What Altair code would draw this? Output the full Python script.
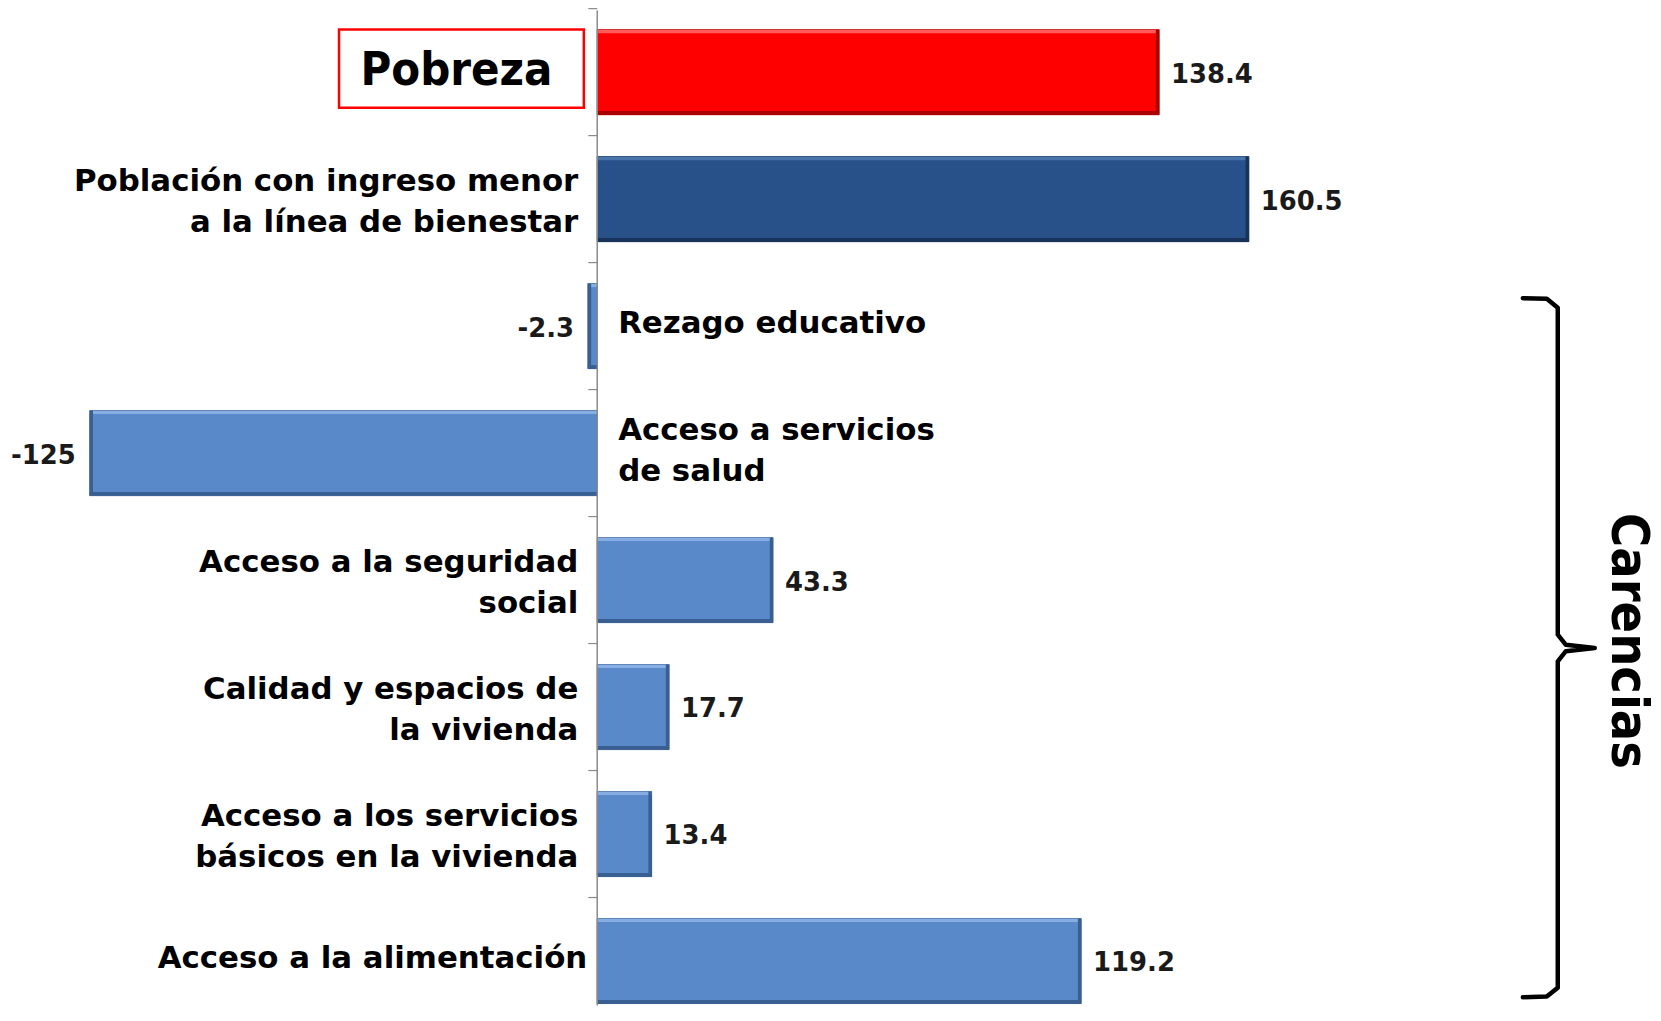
import altair as alt
import pandas as pd

categories = [
    "Pobreza",
    "Población con ingreso menor\na la línea de bienestar",
    "Rezago educativo",
    "Acceso a servicios\nde salud",
    "Acceso a  la seguridad\nsocial",
    "Calidad y espacios de\nla vivienda",
    "Acceso a los servicios\nbásicos en la vivienda",
    "Acceso a la alimentación",
]
values = [138.4, 160.5, -2.3, -125, 43.3, 17.7, 13.4, 119.2]
value_labels = ["138.4", "160.5", "-2.3", "-125", "43.3", "17.7", "13.4", "119.2"]
groups = ["Pobreza", "Bienestar", "Carencia", "Carencia", "Carencia", "Carencia", "Carencia", "Carencia"]

group_names = ["Pobreza", "Bienestar", "Carencia"]
fill_colors = ["#FF0000", "#285189", "#5A89CA"]
light_colors = ["#FF5C5C", "#4A74AC", "#86AEE2"]
dark_colors = ["#A80000", "#18325A", "#395E92"]

# annotation: bracket grouping the "carencias" rows (x in value units, y in row units)
bracket_x = [228.0, 233.9, 236.6, 236.6, 238.6, 245.7, 238.6, 236.6, 236.6, 233.9, 228.0]
bracket_y = [1.78, 1.785, 1.855, 4.43, 4.51, 4.535, 4.56, 4.64, 7.21, 7.28, 7.285]
bracket_label = "Carencias"

df = pd.DataFrame({
    "cat": categories,
    "row": list(range(len(categories))),
    "value": values,
    "label": value_labels,
    "group": groups,
})
bdf = pd.DataFrame({"bx": bracket_x, "by": bracket_y, "order": list(range(len(bracket_x)))})

xs = alt.Scale(domain=[-145.14, 260.06], nice=False, zero=False)
ys = alt.Scale(domain=[-0.486, 7.351], nice=False, zero=False, reverse=True)

LABEL_FONT = "DejaVu Sans"
COND_FONT = "DejaVu Sans Condensed, DejaVu Sans"

base = alt.Chart(df).transform_calculate(zero="0")
barbase = base.transform_calculate(
    y0="datum.row - 0.335", y1="datum.row + 0.335",
)


def gcolor(rng):
    return alt.Color("group:N", scale=alt.Scale(domain=group_names, range=rng), legend=None)


bars = barbase.mark_bar(strokeWidth=1).encode(
    x=alt.X("value:Q", scale=xs, axis=None),
    x2="zero:Q",
    y=alt.Y("y0:Q", scale=ys, axis=None),
    y2="y1:Q",
    color=gcolor(fill_colors),
    stroke=alt.Stroke("group:N", scale=alt.Scale(domain=group_names, range=dark_colors), legend=None),
)

# bevel highlights / shadows
top_hi = barbase.transform_calculate(h1="datum.y0 + 0.028").mark_bar().encode(
    x=alt.X("value:Q", scale=xs, axis=None),
    x2="zero:Q",
    y=alt.Y("y0:Q", scale=ys, axis=None),
    y2="h1:Q",
    color=gcolor(light_colors),
)
bottom_lo = barbase.transform_calculate(l0="datum.y1 - 0.028").mark_bar().encode(
    x=alt.X("value:Q", scale=xs, axis=None),
    x2="zero:Q",
    y=alt.Y("l0:Q", scale=ys, axis=None),
    y2="y1:Q",
    color=gcolor(dark_colors),
)
end_lo = barbase.transform_calculate(
    e0="datum.value - (datum.value >= 0 ? 1 : -1) * min(0.8, abs(datum.value) * 0.4)"
).mark_bar().encode(
    x=alt.X("e0:Q", scale=xs, axis=None),
    x2="value:Q",
    y=alt.Y("y0:Q", scale=ys, axis=None),
    y2="y1:Q",
    color=gcolor(dark_colors),
)

axis_line = base.transform_filter("datum.row == 0").mark_rule(color="#8a8a8a", strokeWidth=1.5).encode(
    x=alt.X("zero:Q", scale=xs, axis=None),
)

ticks = base.transform_calculate(
    tb="datum.row - 0.5", tx="-2.2"
).mark_rule(color="#8a8a8a", strokeWidth=1.2).encode(
    x=alt.X("tx:Q", scale=xs, axis=None),
    x2="zero:Q",
    y=alt.Y("tb:Q", scale=ys, axis=None),
)

TWO = "indexof(datum.cat, '\\n') >= 0"
ONE = "indexof(datum.cat, '\\n') < 0"


def cat_labels(flt, align, dx, dy):
    return base.transform_filter(flt).mark_text(
        align=align, baseline="middle", dx=dx, dy=dy, font=LABEL_FONT, fontWeight="bold",
        fontSize=31, lineBreak="\n", lineHeight=41, color="#000000",
    ).encode(
        x=alt.X("zero:Q", scale=xs, axis=None),
        y=alt.Y("row:Q", scale=ys, axis=None),
        text="cat:N",
    )


left2 = cat_labels(f"datum.value >= 0 && datum.row > 0 && {TWO}", "right", -19, -17)
left1 = cat_labels(f"datum.value >= 0 && datum.row > 0 && {ONE}", "right", -10, -2)
right2 = cat_labels(f"datum.value < 0 && {TWO}", "left", 21, -22)
right1 = cat_labels(f"datum.value < 0 && {ONE}", "left", 21, -2)

pobreza_label = base.transform_filter("datum.row == 0").mark_text(
    align="right", baseline="middle", dx=-45, dy=-1,
    font=COND_FONT, fontWeight="bold", fontSize=47, color="#000000",
).encode(
    x=alt.X("zero:Q", scale=xs, axis=None),
    y=alt.Y("row:Q", scale=ys, axis=None),
    text="cat:N",
)

pobreza_box = base.transform_filter("datum.row == 0").transform_calculate(
    bx1="-63.6", bx2="-3.3", by1="datum.row - 0.335", by2="datum.row + 0.28"
).mark_rect(fill="#ffffff", fillOpacity=0, stroke="#FF0000", strokeWidth=2.5).encode(
    x=alt.X("bx1:Q", scale=xs, axis=None),
    x2="bx2:Q",
    y=alt.Y("by1:Q", scale=ys, axis=None),
    y2="by2:Q",
)

pos_values = base.transform_filter("datum.value >= 0").mark_text(
    align="left", baseline="middle", dx=12, dy=2.5, font=LABEL_FONT, fontWeight="bold",
    fontSize=26, color="#1a1a1a",
).encode(
    x=alt.X("value:Q", scale=xs, axis=None),
    y=alt.Y("row:Q", scale=ys, axis=None),
    text="label:N",
)

neg_values = base.transform_filter("datum.value < 0").mark_text(
    align="right", baseline="middle", dx=-14, dy=2.5, font=LABEL_FONT, fontWeight="bold",
    fontSize=26, color="#1a1a1a",
).encode(
    x=alt.X("value:Q", scale=xs, axis=None),
    y=alt.Y("row:Q", scale=ys, axis=None),
    text="label:N",
)

bracket = alt.Chart(bdf).mark_line(color="#000000", strokeWidth=4.5, strokeJoin="round", strokeCap="round").encode(
    x=alt.X("bx:Q", scale=xs, axis=None),
    y=alt.Y("by:Q", scale=ys, axis=None),
    order="order:Q",
)

carencias = alt.Chart(pd.DataFrame({"t": [bracket_label], "tx": [254.0], "ty": [4.48]})).mark_text(
    angle=90, align="center", baseline="middle",
    font=COND_FONT, fontWeight="bold", fontSize=52, color="#000000",
).encode(
    x=alt.X("tx:Q", scale=xs, axis=None),
    y=alt.Y("ty:Q", scale=ys, axis=None),
    text="t:N",
)

chart = alt.layer(
    bars, top_hi, bottom_lo, end_lo, axis_line, ticks, pobreza_box,
    left2, left1, right2, right1, pobreza_label,
    pos_values, neg_values, bracket, carencias,
).resolve_scale(color="independent").properties(
    width=1653, height=1000,
    autosize=alt.AutoSizeParams(type="none"),
    padding=0,
).configure_view(stroke=None)

chart.save("out.html", embed_options={"renderer": "svg", "actions": False})
